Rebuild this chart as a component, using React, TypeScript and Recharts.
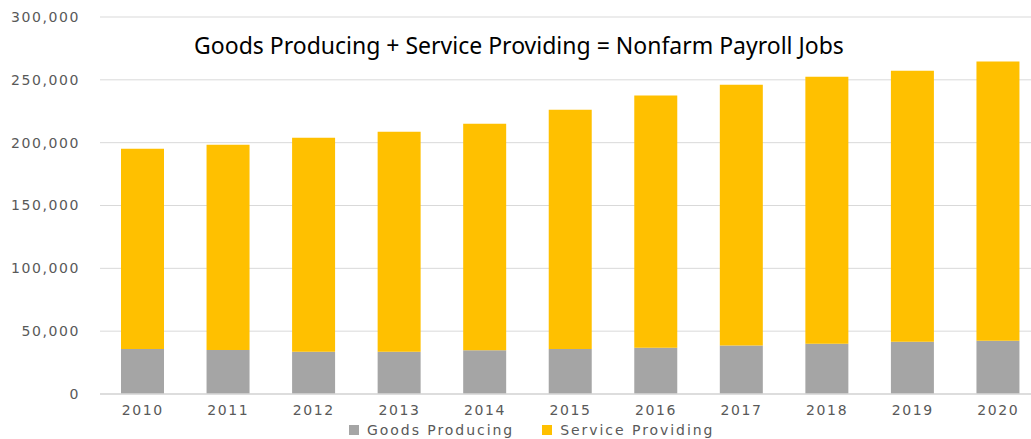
import { BarChart, Bar, XAxis, YAxis, CartesianGrid } from 'recharts';

const years = ['2010', '2011', '2012', '2013', '2014', '2015', '2016', '2017', '2018', '2019', '2020'];
const goodsProducing = [35800, 35000, 33700, 33700, 34800, 35800, 36900, 38500, 40000, 41600, 42400];
const serviceProviding = [159300, 163300, 170200, 175000, 180200, 190400, 200700, 207600, 212500, 215600, 222200];
const yTicks = [0, 50000, 100000, 150000, 200000, 250000, 300000];

const SERIES = [
  { key: 'goods', name: 'Goods Producing', color: '#a5a5a5' },
  { key: 'service', name: 'Service Providing', color: '#ffc000' },
];

const data = years.map((year, i) => ({
  year,
  goods: goodsProducing[i],
  service: serviceProviding[i],
}));

const tickStyle = {
  fill: '#595959',
  fontSize: 14,
  fontFamily: 'DejaVu Sans',
  letterSpacing: 1.6,
};

export default function App() {
  return (
    <div style={{ position: 'absolute', left: 0, top: 0, width: 1031, height: 439, overflow: 'hidden', background: '#fff' }}>
      <BarChart
        width={1041}
        height={439}
        data={data}
        margin={{ top: 17, right: 0, bottom: 15, left: 0 }}
        barSize={43}
      >
        <CartesianGrid vertical={false} stroke="#d9d9d9" />
        <XAxis
          dataKey="year"
          tick={tickStyle}
          tickLine={false}
          axisLine={{ stroke: '#d9d9d9', strokeWidth: 1.5 }}
          tickMargin={5}
          height={30}
        />
        <YAxis
          width={100}
          domain={[0, 300000]}
          ticks={yTicks}
          tick={tickStyle}
          tickFormatter={(v: number) => v.toLocaleString('en-US')}
          axisLine={false}
          tickLine={false}
          tickMargin={14}
        />
        {SERIES.map((s) => (
          <Bar key={s.key} dataKey={s.key} name={s.name} stackId="jobs" fill={s.color} isAnimationActive={false} />
        ))}
      </BarChart>

      {/* chart title */}
      <div
        style={{
          position: 'absolute',
          left: 0,
          width: 1038,
          top: 30,
          textAlign: 'center',
          fontFamily: 'Noto Sans',
          fontSize: 23,
          lineHeight: '30px',
          color: '#000',
        }}
      >
        Goods Producing + Service Providing = Nonfarm Payroll Jobs
      </div>

      {/* legend */}
      <div
        style={{
          position: 'absolute',
          left: 349,
          top: 422,
          display: 'flex',
          alignItems: 'center',
          fontFamily: 'DejaVu Sans',
          fontSize: 14,
          letterSpacing: 1.95,
          color: '#595959',
          lineHeight: '16px',
          whiteSpace: 'nowrap',
        }}
      >
        {SERIES.map((s, i) => (
          <div key={s.key} style={{ display: 'flex', alignItems: 'center', marginRight: i === 0 ? 28 : 0 }}>
            <span style={{ display: 'inline-block', width: 10, height: 10, background: s.color, marginRight: 8 }} />
            <span>{s.name}</span>
          </div>
        ))}
      </div>
    </div>
  );
}
